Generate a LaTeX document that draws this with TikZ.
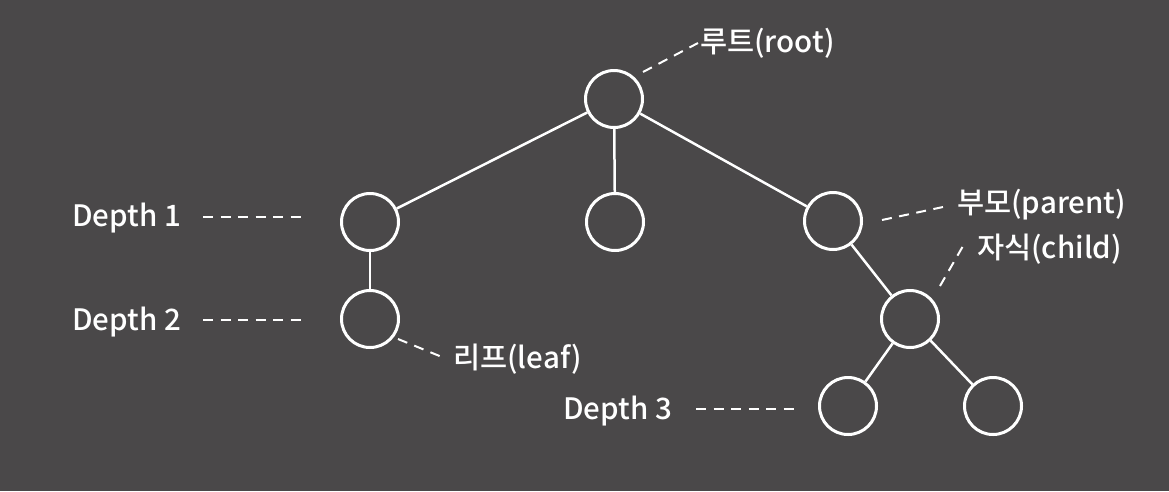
\documentclass[tikz,border=0pt]{standalone}
\usepackage{xcolor}
\usepackage{fontspec}
\setmainfont{Noto Sans CJK KR Medium}
\usetikzlibrary{positioning}
\definecolor{bgcol}{RGB}{74,72,73}
\tikzset{
    treenode/.style={circle, draw=white, line width=3pt, minimum size=57pt, inner sep=0pt},
    branch/.style={white, line width=2.5pt},
    dashline/.style={white, line width=2pt, dash pattern=on 10pt off 7.5pt},
    tagtext/.style={text=white, font=\fontsize{29.5}{34}\selectfont, anchor=base west, inner sep=0pt}
}

\begin{document}
\begin{tikzpicture}[x=1pt, y=-1pt]
            \fill[bgcol] (0,0) rectangle (1169,491);
            \useasboundingbox (0,0) rectangle (1169,491);

            \node (root) [treenode] at (614,99) {};
            \node (lchild) [treenode] at (370,222) {};
            \node (mchild) [treenode] at (615,222) {};
            \node (parent) [treenode] at (833,221) {};
            \node (leaf) [treenode] at (370,319) {};
            \node (child) [treenode] at (910,319) {};
            \node (gleft) [treenode] at (848,406) {};
            \node (gright) [treenode] at (993,406) {};

            \draw[branch] (root) -- (lchild);
            \draw[branch] (root) -- (mchild);
            \draw[branch] (root) -- (parent);
            \draw[branch] (lchild) -- (leaf);
            \draw[branch] (parent) -- (child);
            \draw[branch] (child) -- (gleft);
            \draw[branch] (child) -- (gright);

            % text
            \node (rootlbl) [tagtext] at (700,52) {루트(root)};
            \node (parentlbl) [tagtext] at (957,213) {부모(parent)};
            \node (childlbl) [tagtext] at (977,258) {자식(child)};
            \node (leaflbl) [tagtext] at (453,368) {리프(leaf)};
            \node (depthA) [tagtext] at (72,226) {Depth 1};
            \node (depthB) [tagtext] at (72,330) {Depth 2};
            \node (depthC) [tagtext] at (563,419) {Depth 3};

            % dashed leaders
            \coordinate (rootA) at (643,72);  \coordinate (rootB) at (698,43);
            \coordinate (parA) at (882,220);  \coordinate (parB) at (943,207);
            \coordinate (chA) at (940,286);   \coordinate (chB) at (963,246);
            \coordinate (leafA) at (398,339); \coordinate (leafB) at (442,357);
            \coordinate (dAa) at (203,217);   \coordinate (dAb) at (302,217);
            \coordinate (dBa) at (203,320);   \coordinate (dBb) at (302,320);
            \coordinate (dCa) at (696,409);   \coordinate (dCb) at (795,409);
            \draw[dashline] (rootA) -- (rootB);
            \draw[dashline] (parA) -- (parB);
            \draw[dashline] (chA) -- (chB);
            \draw[dashline] (leafA) -- (leafB);
            \draw[dashline] (dAa) -- (dAb);
            \draw[dashline] (dBa) -- (dBb);
            \draw[dashline] (dCa) -- (dCb);
\end{tikzpicture}
\end{document}
